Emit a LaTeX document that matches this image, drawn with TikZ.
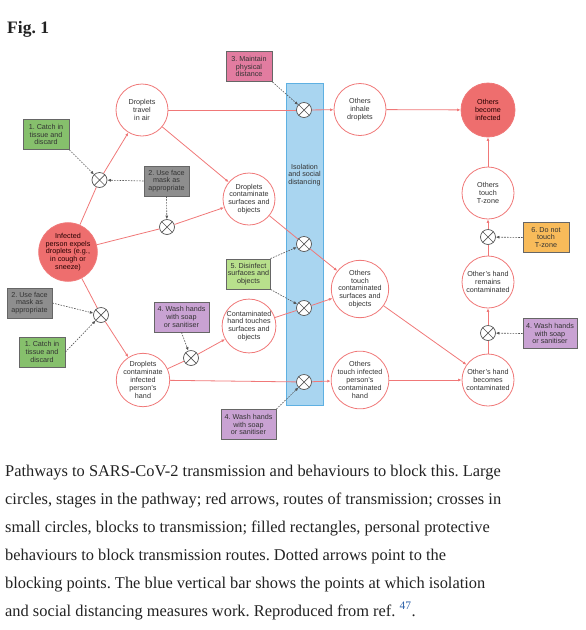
\documentclass[tikz,border=0pt]{standalone}
\usepackage{fontspec}
\setmainfont{Liberation Serif}
\newfontfamily\diagfont{Liberation Sans}
\usetikzlibrary{arrows.meta}
\frenchspacing
\definecolor{rline}{HTML}{F07878}
\definecolor{rfill}{HTML}{EE6E6E}
\definecolor{txt}{HTML}{333333}
\definecolor{blkline}{HTML}{555555}
\definecolor{boxline}{HTML}{666666}
\definecolor{cpink}{HTML}{E27CA0}
\definecolor{cgreen}{HTML}{86C06C}
\definecolor{cgray}{HTML}{8E8E8E}
\definecolor{clgreen}{HTML}{B8E08C}
\definecolor{cpurple}{HTML}{C9A2D3}
\definecolor{corange}{HTML}{F8BB5A}
\definecolor{barfill}{HTML}{A9D5F0}
\definecolor{barline}{HTML}{5EB0E2}
\definecolor{reflink}{HTML}{2A5FA8}
\definecolor{captxt}{HTML}{222222}
\begin{document}
\begin{tikzpicture}[x=1pt,y=-1pt,
  dfont/.style={font=\diagfont\fontsize{7.2}{7.8}\selectfont},
  stage/.style={circle, minimum size=52pt, inner sep=0pt, draw=rline, line width=0.8pt, fill=white, align=center, dfont, text=txt},
  stagered/.style={stage, fill=rfill, text={black!85!red}},
  blk/.style={circle, draw=blkline, fill=white, minimum size=15pt, inner sep=0pt, line width=0.7pt,
    path picture={\draw[blkline, line width=0.7pt] (path picture bounding box.north west) -- (path picture bounding box.south east) (path picture bounding box.north east) -- (path picture bounding box.south west);}},
  beh/.style={rectangle, draw=boxline, line width=0.8pt, minimum width=46pt, minimum height=30pt, inner sep=1pt, align=center, dfont, text=txt},
  route/.style={draw=rline, line width=0.8pt},
  routea/.style={route, -{Latex[length=3.5pt,width=3pt]}},
  blockarrow/.style={draw=blkline, line width=0.6pt, dash pattern=on 1.6pt off 1.2pt, -{Latex[length=3.5pt,width=3pt]}},
  capline/.style={anchor=base west, inner sep=0pt, font=\fontsize{16.4}{19}\selectfont, text=captxt}
]
\useasboundingbox (0,0) rectangle (586,630);

% title
\node[anchor=base west, inner sep=0pt, font=\bfseries\fontsize{17.5}{20}\selectfont, text=captxt] (title) at (7,33) {Fig. 1};

% blue bar
\node[draw=barline, fill=barfill, line width=0.8pt, minimum width=37pt, minimum height=322pt, inner sep=0pt, anchor=north west] (bar) at (286,83) {};
\node[dfont, text=txt, align=center] (bartext) at (304.5,175) {Isolation\\and social\\distancing};

% stages
\node[stagered] (infected) at (68,252) {Infected\\person expels\\droplets (e.g.,\\in cough or\\sneeze)};
\node[stage] (travel) at (142,110) {Droplets\\travel\\in air};
\node[stage] (surf) at (249,199) {Droplets\\contaminate\\surfaces and\\objects};
\node[stage] (inhale) at (360,109.5) {Others\\inhale\\droplets};
\node[stagered, minimum size=54pt] (infd) at (488,110) {Others\\become\\infected};
\node[stage] (tzone) at (488,193) {Others\\touch\\T-zone};
\node[stage] (remains) at (488,282) {Other’s hand\\remains\\contaminated};
\node[stage] (becomes) at (488,380) {Other’s hand\\becomes\\contaminated};
\node[stage] (otsurf) at (360,289) {Others\\touch\\contaminated\\surfaces and\\objects};
\node[stage] (othand) at (360,380) {Others\\touch infected\\person’s\\contaminated\\hand};
\node[stage] (hand) at (143,380) {Droplets\\contaminate\\infected\\person’s\\hand};
\node[stage] (cht) at (249,326) {Contaminated\\hand touches\\surfaces and\\objects};

% blocking points
\node[blk] (x1) at (99.5,180) {};
\node[blk] (x2) at (167,227) {};
\node[blk] (xb1) at (304,110) {};
\node[blk] (xb2) at (304,244) {};
\node[blk] (xb3) at (304,308) {};
\node[blk] (xb4) at (304,382) {};
\node[blk] (xl) at (101,315) {};
\node[blk] (xm) at (191,358) {};
\node[blk] (xt) at (488,237) {};
\node[blk] (xr) at (488,333) {};

% behaviours
\node[beh, fill=cpink] (b3) at (249,66.5) {3. Maintain\\physical\\distance};
\node[beh, fill=cgreen] (b1a) at (46,134.5) {1. Catch in\\tissue and\\discard};
\node[beh, fill=cgray, minimum width=45pt] (b2a) at (166.5,181) {2. Use face\\mask as\\appropriate};
\node[beh, fill=cgray, minimum width=45pt] (b2b) at (29.5,303) {2. Use face\\mask as\\appropriate};
\node[beh, fill=cgreen] (b1b) at (42,352) {1. Catch in\\tissue and\\discard};
\node[beh, fill=cpurple, minimum width=55pt] (b4a) at (181.5,317) {4. Wash hands\\with soap\\or sanitiser};
\node[beh, fill=clgreen, minimum width=43pt] (b5) at (248.5,274) {5. Disinfect\\surfaces and\\objects};
\node[beh, fill=cpurple, minimum width=55pt] (b4b) at (248.5,424.5) {4. Wash hands\\with soap\\or sanitiser};
\node[beh, fill=corange] (b6) at (546,237.5) {6. Do not\\touch\\T-zone};
\node[beh, fill=cpurple, minimum width=54pt] (b4c) at (550,333.5) {4. Wash hands\\with soap\\or sanitiser};

% transmission routes
\draw[route] (infected) -- (x1);
\draw[routea] (x1) -- (travel);
\draw[route] (infected) -- (x2);
\draw[routea] (x2) -- (surf);
\draw[routea] (travel) -- (surf);
\draw[route] (travel) -- (xb1);
\draw[routea] (xb1) -- (inhale);
\draw[routea] (inhale) -- (infd);
\draw[route] (surf) -- (xb2);
\draw[routea] (xb2) -- (otsurf);
\draw[route] (cht) -- (xb3);
\draw[routea] (xb3) -- (otsurf);
\draw[route] (infected) -- (xl);
\draw[routea] (xl) -- (hand);
\draw[route] (hand) -- (xm);
\draw[routea] (xm) -- (cht);
\draw[route] (hand) -- (xb4);
\draw[routea] (xb4) -- (othand);
\draw[routea] (othand) -- (becomes);
\draw[routea] (otsurf) -- (becomes);
\draw[route] (becomes) -- (xr);
\draw[routea] (xr) -- (remains);
\draw[route] (remains) -- (xt);
\draw[routea] (xt) -- (tzone);
\draw[routea] (tzone) -- (infd);

% blocking arrows
\draw[blockarrow] (b3.south east) -- (xb1);
\draw[blockarrow] (b1a.south east) -- (x1);
\draw[blockarrow] (b2a.west) -- (x1);
\draw[blockarrow] (b2a.south) -- (x2);
\draw[blockarrow] (b5.north east) -- (xb2);
\draw[blockarrow] (b5.south east) -- (xb3);
\draw[blockarrow] (b2b.east) -- (xl);
\draw[blockarrow] (b1b.east) -- (xl);
\draw[blockarrow] (b4a.south) -- (xm);
\draw[blockarrow] (b4b.north east) -- (xb4);
\draw[blockarrow] (b6.west) -- (xt);
\draw[blockarrow] (b4c.west) -- (xr);

% caption
\node[capline] (cap1) at (5,476) {Pathways to SARS-CoV-2 transmission and behaviours to block this. Large};
\node[capline] (cap2) at (5,504) {circles, stages in the pathway; red arrows, routes of transmission; crosses in};
\node[capline] (cap3) at (5,532) {small circles, blocks to transmission; filled rectangles, personal protective};
\node[capline] (cap4) at (5,560) {behaviours to block transmission routes. Dotted arrows point to the};
\node[capline] (cap5) at (5,588) {blocking points. The blue vertical bar shows the points at which isolation};
\node[capline] (cap6) at (5,616) {and social distancing measures work. Reproduced from ref. \textsuperscript{\color{reflink}47}.};
\end{tikzpicture}
\end{document}
